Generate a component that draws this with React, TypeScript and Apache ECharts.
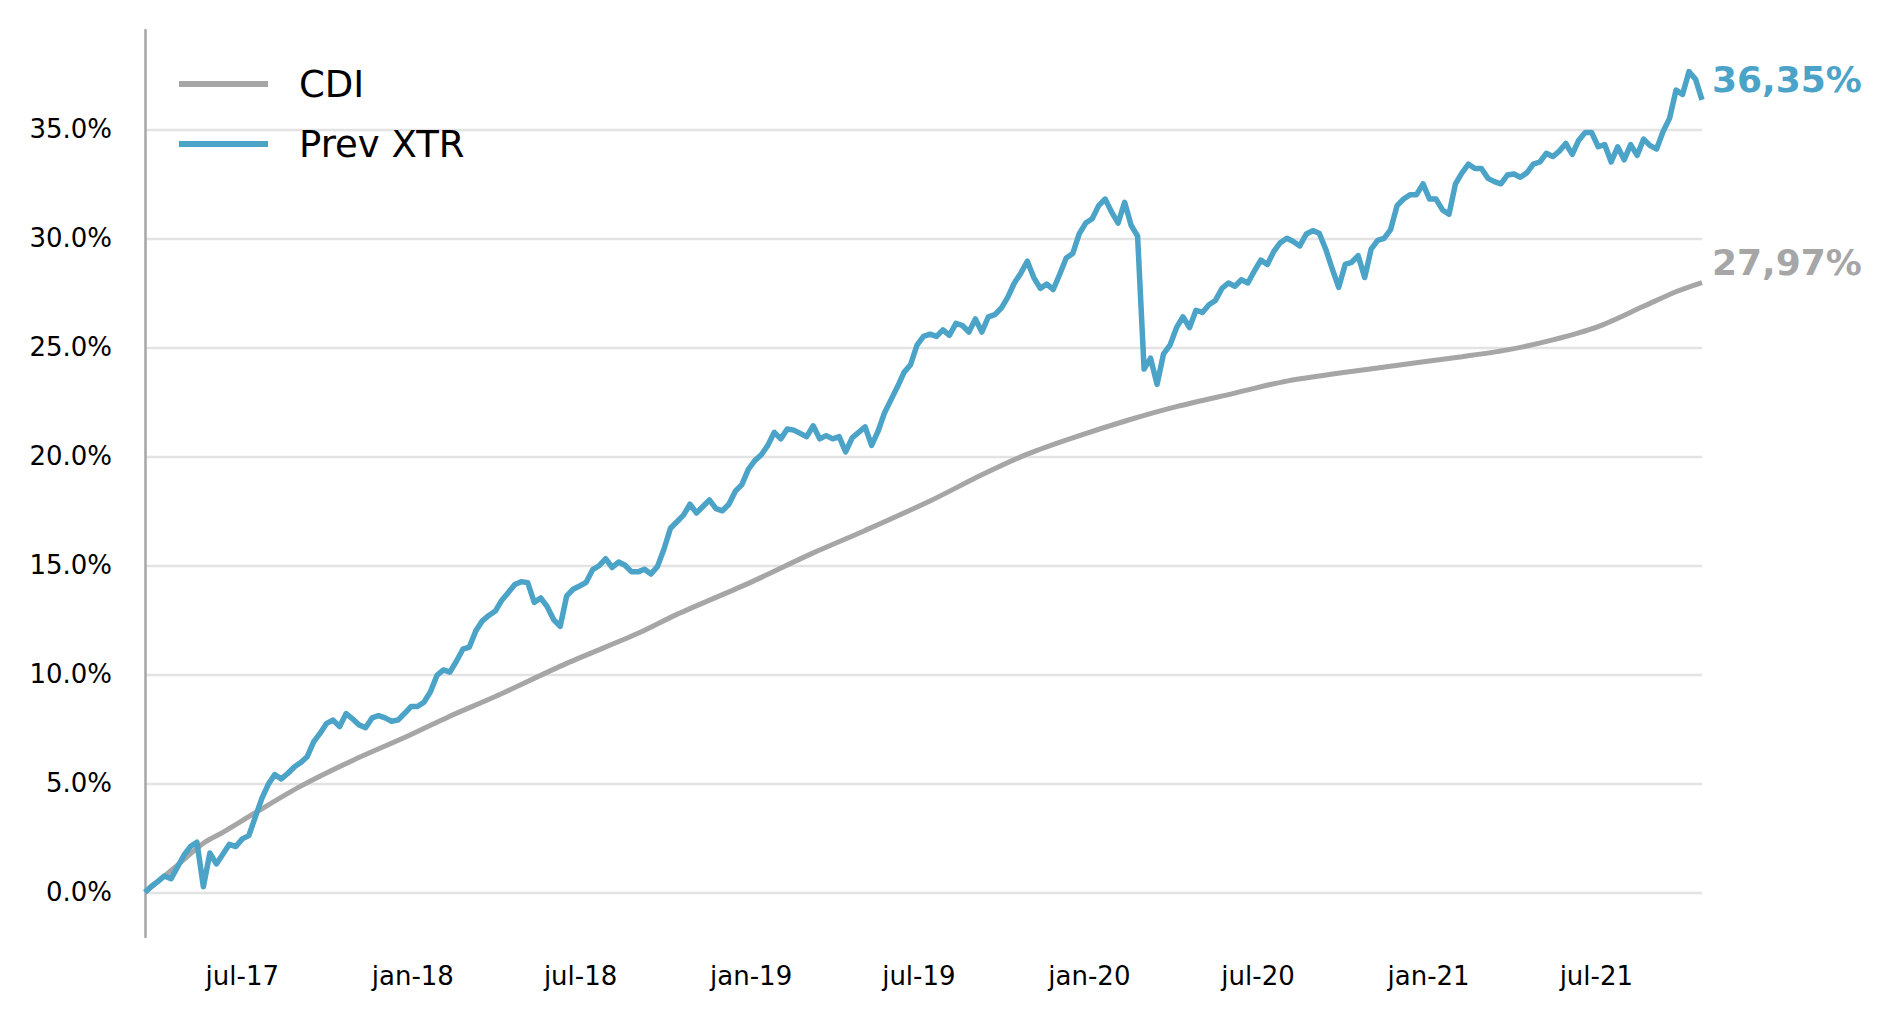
import React, { useEffect, useRef } from "react";
import * as echarts from "echarts";

// Weekly observations, first one on 18 Mar 2017 (week index k -> date)
const FIRST_YEAR = 2017;
const FIRST_MONTH = 2; // March (0-based)
const FIRST_DAY = 18;

// Prev XTR cumulative return (%), one value per week
const prevXtr2017 = [
  0.0, 0.28, 0.5, 0.75, 0.62, 1.15, 1.7, 2.1, 2.3, 0.25, 1.8, 1.3, 1.75, 2.2, 2.1, 2.45, 2.6, 3.45, 4.3, 4.95,
  5.4, 5.2, 5.45, 5.75, 5.95, 6.22, 6.9, 7.3, 7.75, 7.9, 7.6, 8.2, 7.95, 7.68, 7.55, 8.0, 8.1, 8.0, 7.85, 7.9,
];
const prevXtr2018 = [
  8.2, 8.52, 8.52, 8.72, 9.2, 9.95, 10.2, 10.1, 10.6, 11.15, 11.25, 12.0, 12.45, 12.7, 12.9, 13.4, 13.75, 14.12, 14.25, 14.2,
  13.3, 13.5, 13.1, 12.5, 12.2, 13.6, 13.9, 14.05, 14.22, 14.8, 14.98, 15.3, 14.9, 15.15, 15.0, 14.7, 14.7, 14.82, 14.6, 14.95,
  15.75, 16.7, 17.0, 17.3, 17.8, 17.4, 17.7, 18.0, 17.6, 17.5, 17.8, 18.4,
];
const prevXtr2019 = [
  18.7, 19.4, 19.8, 20.07, 20.5, 21.1, 20.8, 21.25, 21.2, 21.05, 20.9, 21.4, 20.8, 20.95, 20.8, 20.9, 20.2, 20.85, 21.1, 21.35,
  20.5, 21.15, 22.0, 22.6, 23.2, 23.85, 24.2, 25.1, 25.5, 25.6, 25.5, 25.8, 25.55, 26.1, 26.0, 25.7, 26.3, 25.7, 26.4, 26.5,
  26.8, 27.3, 27.95, 28.4, 28.95, 28.2, 27.7, 27.9, 27.65, 28.35, 29.1, 29.3,
];
const prevXtr2020 = [
  30.2, 30.7, 30.9, 31.5, 31.8, 31.2, 30.7, 31.65, 30.6, 30.1, 24.0, 24.5, 23.3, 24.7, 25.1, 25.9, 26.4, 25.9, 26.7, 26.6,
  26.95, 27.15, 27.7, 27.95, 27.8, 28.1, 27.95, 28.5, 29.0, 28.8, 29.4, 29.8, 30.0, 29.85, 29.65, 30.2, 30.35, 30.23, 29.5, 28.6,
  27.75, 28.8, 28.9, 29.2, 28.2, 29.5, 29.9, 30.0, 30.4, 31.5, 31.8, 32.0,
];
const prevXtr2021 = [
  32.0, 32.5, 31.8, 31.8, 31.3, 31.1, 32.5, 33.0, 33.4, 33.2, 33.2, 32.75, 32.6, 32.5, 32.9, 32.95, 32.8, 33.0, 33.4, 33.5,
  33.9, 33.75, 34.0, 34.35, 33.85, 34.5, 34.85, 34.85, 34.2, 34.3, 33.5, 34.2, 33.6, 34.3, 33.8, 34.55, 34.25, 34.1, 34.9, 35.5,
  36.8, 36.6, 37.65, 37.3, 36.35,
];

// CDI cumulative return (%), read at these week indices
const cdiWeeks = [0, 5, 9, 12, 17, 24, 32, 40, 47, 54, 65, 76, 82, 93, 103, 111, 121, 129, 136, 143, 152, 159, 168, 176, 190, 203, 210, 217, 224, 231, 236, 240];
const cdiValues = [0.0, 1.25, 2.25, 2.75, 3.65, 4.87, 6.05, 7.1, 8.08, 8.98, 10.5, 11.88, 12.75, 14.17, 15.57, 16.6, 17.95, 19.15, 20.1, 20.85, 21.7, 22.28, 22.9, 23.45, 24.05, 24.57, 24.88, 25.34, 25.95, 26.88, 27.55, 27.97];

// Axis ticks
const yTicksMin = 0;
const yTicksMax = 35;
const yTickStep = 5;
const monthNames = ["jan", "fev", "mar", "abr", "mai", "jun", "jul", "ago", "set", "out", "nov", "dez"];

const seriesNames = ["CDI", "Prev XTR"];
const BLUE = "#4ba3c8";
const GREY = "#a6a6a6";
const FONT = "DejaVu Sans";

const weekDate = (k: number) => new Date(FIRST_YEAR, FIRST_MONTH, FIRST_DAY + 7 * k).getTime();

export default function App() {
  const ref = useRef<HTMLDivElement>(null);

  useEffect(() => {
    if (!ref.current) return;
    const chart = echarts.init(ref.current, null, { renderer: "svg" });

    const prevXtr = [...prevXtr2017, ...prevXtr2018, ...prevXtr2019, ...prevXtr2020, ...prevXtr2021];
    const xtrData = prevXtr.map((v, k) => [weekDate(k), v]);
    const cdiData = cdiWeeks.map((w, i) => [weekDate(w), cdiValues[i]]);
    const lastWeek = prevXtr.length - 1;

    const endFmt = (p: any) => Number(p.value[1]).toFixed(2).replace(".", ",") + "%";

    chart.setOption({
      animation: false,
      grid: [
        { left: 145, right: 191, top: 129.3, bottom: 1023 - 892.3, containLabel: false },
        { left: 145, width: 1, top: 30, bottom: 86, containLabel: false },
      ],
      legend: {
        data: seriesNames,
        orient: "vertical",
        left: 174,
        top: 59,
        icon: "rect",
        itemWidth: 89,
        itemHeight: 6,
        itemGap: 20,
        textStyle: { fontSize: 37, fontFamily: FONT, color: "#000", lineHeight: 40, padding: [0, 0, 0, 26] },
      },
      xAxis: [
        {
          type: "time",
          gridIndex: 0,
          min: weekDate(0),
          max: weekDate(lastWeek),
          minInterval: 180 * 86400000,
          maxInterval: 186 * 86400000,
          axisLine: { show: false },
          axisTick: { show: false },
          splitLine: { show: false },
          axisLabel: {
            fontSize: 26,
            fontFamily: FONT,
            color: "#000",
            margin: 71,
            formatter: (val: number) => {
              const d = new Date(val);
              const m = d.getMonth();
              if (m !== 0 && m !== 6) return "";
              return monthNames[m] + "-" + String(d.getFullYear()).slice(2);
            },
          },
        },
        { type: "value", gridIndex: 1, show: false },
      ],
      yAxis: [
        {
          type: "value",
          gridIndex: 0,
          min: yTicksMin,
          max: yTicksMax,
          interval: yTickStep,
          axisLine: { show: false },
          axisTick: { show: false },
          splitLine: { show: true, lineStyle: { color: "#e3e3e3", width: 2.4 } },
          axisLabel: {
            fontSize: 26,
            fontFamily: FONT,
            color: "#000",
            margin: 33,
            formatter: (v: number) => v.toFixed(1) + "%",
          },
        },
        {
          type: "value",
          gridIndex: 1,
          min: 0,
          max: 1,
          axisLine: { show: true, lineStyle: { color: GREY, width: 2.5 } },
          axisTick: { show: false },
          axisLabel: { show: false },
          splitLine: { show: false },
        },
      ],
      series: [
        {
          name: "CDI",
          type: "line",
          xAxisIndex: 0,
          yAxisIndex: 0,
          data: cdiData,
          color: GREY,
          showSymbol: false,
          symbol: "none",
          smooth: 0.3,
          clip: false,
          lineStyle: { width: 5, color: GREY },
          endLabel: {
            show: true,
            formatter: endFmt,
            color: GREY,
            fontWeight: "bold",
            fontSize: 36,
            fontFamily: FONT,
            distance: 10,
            offset: [0, -20],
          },
          z: 2,
        },
        {
          name: "Prev XTR",
          type: "line",
          xAxisIndex: 0,
          yAxisIndex: 0,
          data: xtrData,
          color: BLUE,
          showSymbol: false,
          symbol: "none",
          clip: false,
          lineStyle: { width: 5.5, color: BLUE, join: "round" },
          endLabel: {
            show: true,
            formatter: endFmt,
            color: BLUE,
            fontWeight: "bold",
            fontSize: 36,
            fontFamily: FONT,
            distance: 10,
            offset: [0, -20],
          },
          z: 3,
        },
      ],
    });

    return () => chart.dispose();
  }, []);

  return (
    <div
      ref={ref}
      style={{ position: "absolute", left: 0, top: 0, width: "1893px", height: "1023px", background: "#fff" }}
    />
  );
}
